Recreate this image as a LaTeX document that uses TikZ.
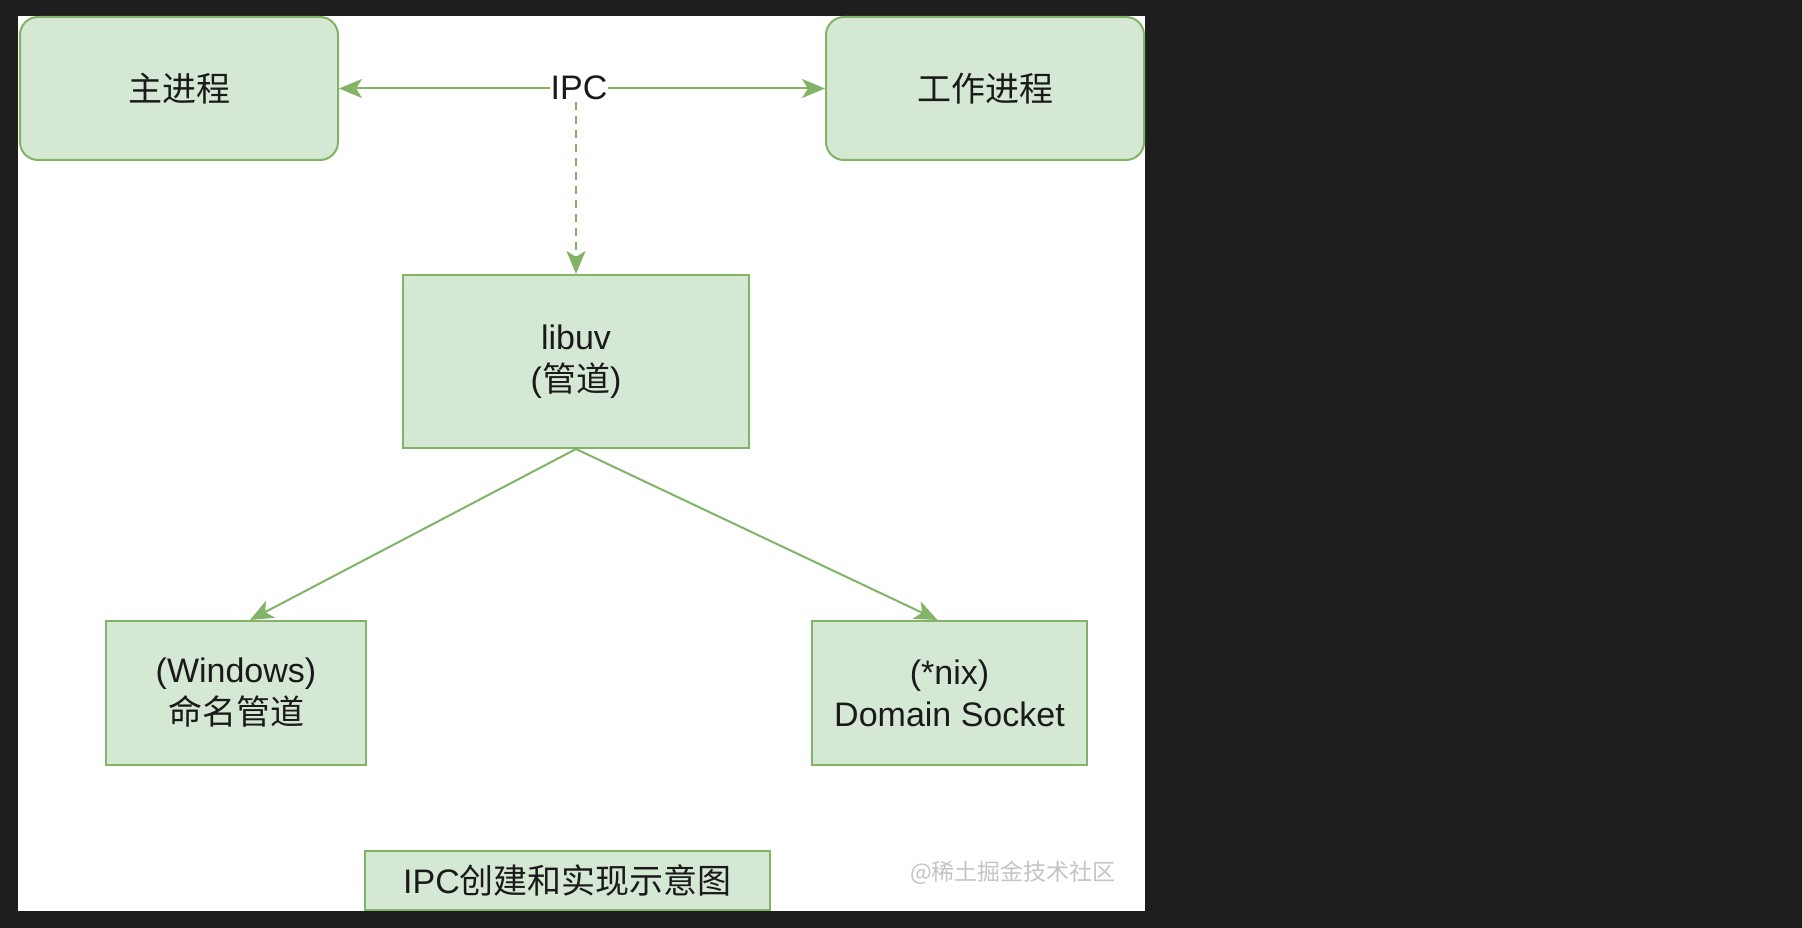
\documentclass[tikz,border=0pt]{standalone}
\usepackage{fontspec}
\setmainfont{Liberation Sans}
\newfontfamily\cjk{Noto Sans CJK SC}
\usetikzlibrary{arrows.meta}
\definecolor{gfill}{HTML}{D5E8D4}
\definecolor{gdraw}{HTML}{82B366}
\definecolor{darkbg}{HTML}{1E1E1E}
\definecolor{txt}{HTML}{1A1A1A}
\definecolor{wm}{HTML}{C4C4C4}
\begin{document}
\begin{tikzpicture}[x=1pt,y=-1pt,
  box/.style={draw=gdraw, fill=gfill, line width=2pt, inner sep=0pt, align=center,
    text=txt, font=\fontsize{34}{42}\selectfont},
  rbox/.style={box, rounded corners=18pt},
  conn/.style={draw=gdraw, line width=2pt},
  arrowtip/.tip={Stealth[length=23pt,width=19pt,inset=6pt]},
  tip/.style={-arrowtip}
]
\useasboundingbox (0,0) rectangle (1802,928);
\fill[darkbg] (0,0) rectangle (1802,928);
\fill[white] (18,16) rectangle (1145,911);

\node[rbox, minimum width=318pt, minimum height=143pt] (main) at (179,88.5) {{\cjk 主进程}};
\node[rbox, minimum width=318pt, minimum height=143pt] (work) at (985,88.5) {{\cjk 工作进程}};
\node[box, minimum width=346pt, minimum height=173pt] (libuv) at (576,361.5) {libuv\\({\cjk 管道})};
\node[box, minimum width=260pt, minimum height=144pt] (win) at (236,693) {(Windows)\\{\cjk 命名管道}};
\node[box, minimum width=275pt, minimum height=144pt] (dom) at (949.5,693) {(*nix)\\Domain Socket};
\node[box, minimum width=405pt, minimum height=59pt] (title) at (567.5,880.5) {IPC{\cjk 创建和实现示意图}};
\node[text=wm, font=\cjk\fontsize{23}{26}\selectfont] (mark) at (1013,873) {@稀土掘金技术社区};

\coordinate (ipcpt) at (576,88);
\draw[conn, arrowtip-arrowtip] (main.east) -- (work.west);
\draw[conn, tip, dash pattern=on 8pt off 6pt] (ipcpt) -- (libuv.north);
\node[fill=white, inner sep=1pt, text=txt, font=\fontsize{34}{40}\selectfont] (ipc) at (579,88) {IPC};

\draw[conn, tip] (libuv.south) -- ([xshift=14pt]win.north);
\draw[conn, tip] (libuv.south) -- ([xshift=-12pt]dom.north);
\end{tikzpicture}
\end{document}
